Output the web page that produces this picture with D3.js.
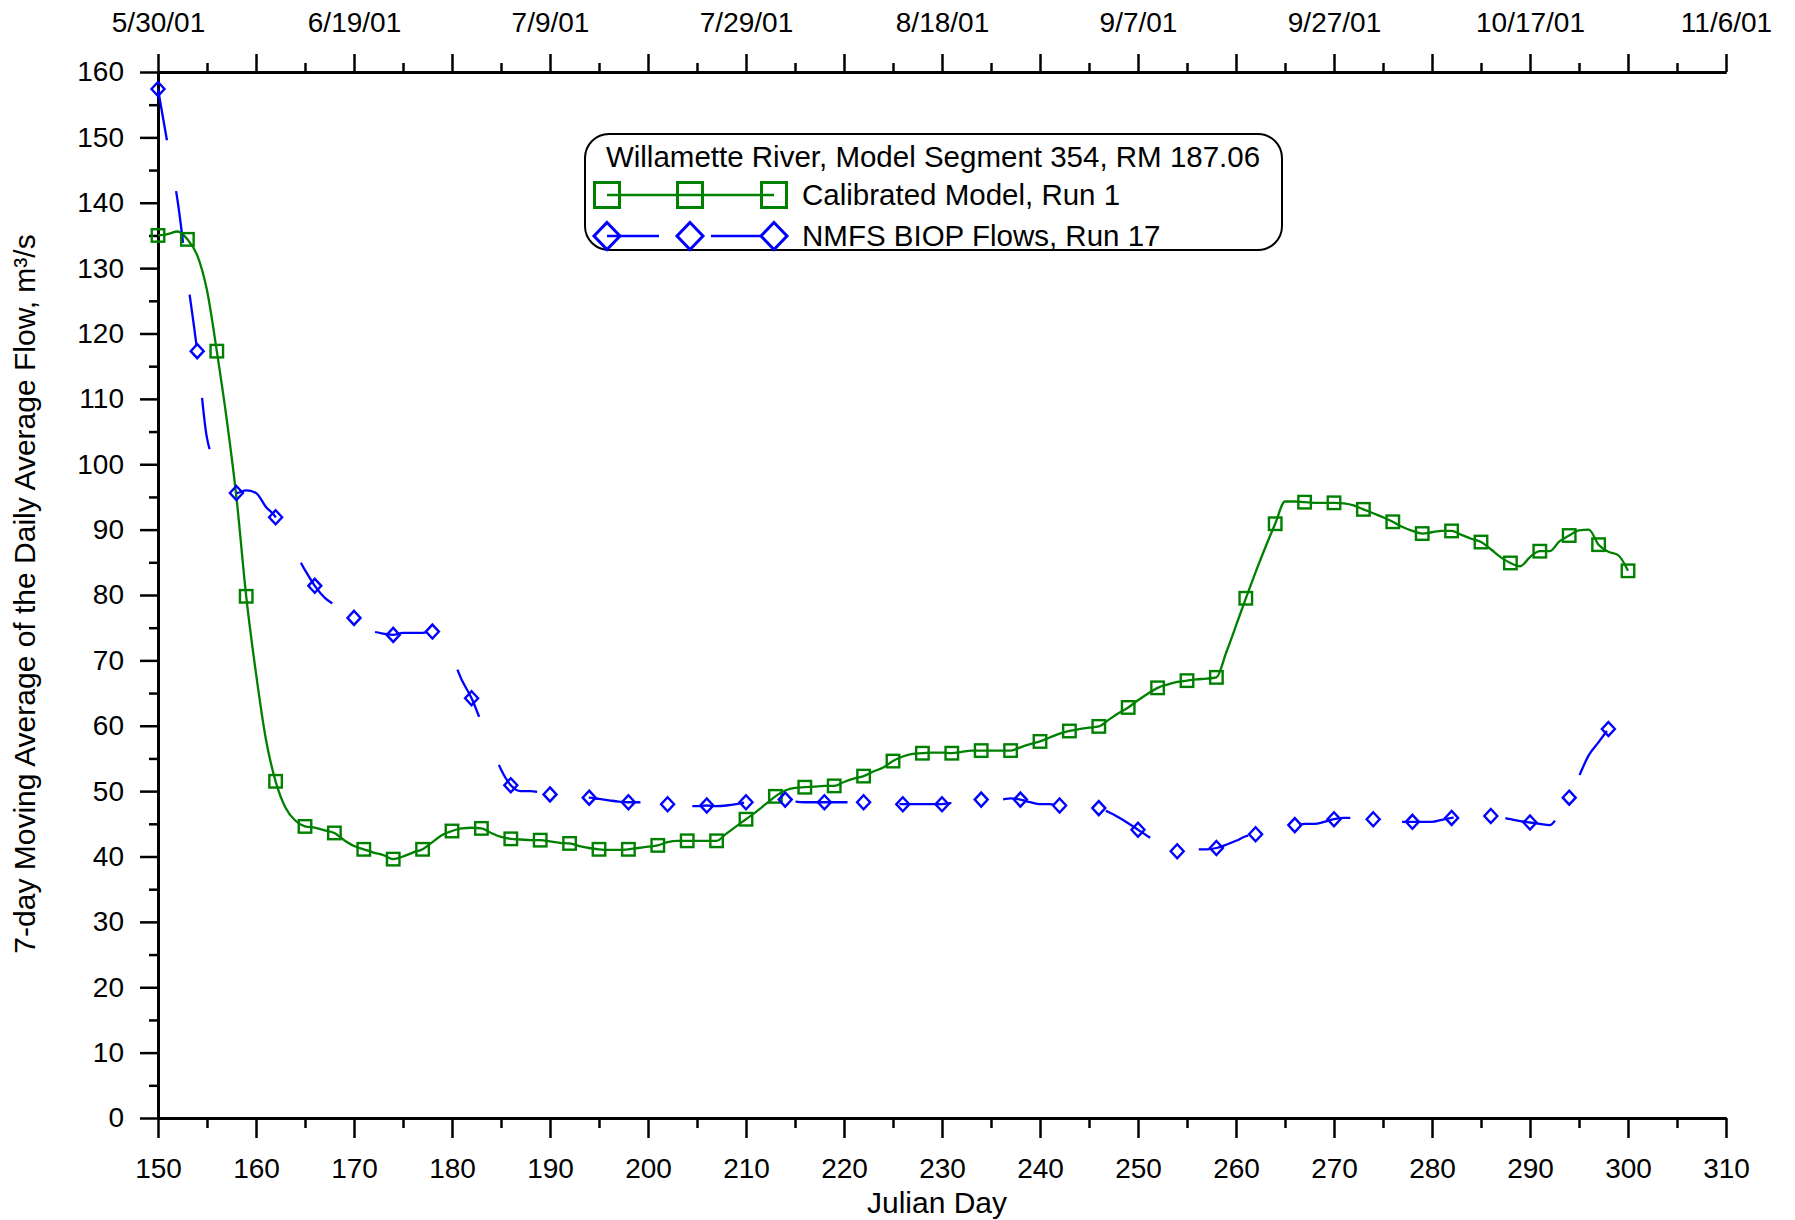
<!DOCTYPE html>
<html><head><meta charset="utf-8">
<script src="https://cdn.jsdelivr.net/npm/d3@7"></script>
<style>
body{margin:0;background:#fff}
svg{display:block}
text{font-family:Arial,"Liberation Sans",sans-serif;fill:#000}
</style>
</head><body>
<svg id="chart" width="1795" height="1220"></svg>
<script>
// ---- data ----
const calibratedStart = 150;
const calibratedFlow = [
135.0,135.2,135.6,134.4,132.0,126.6,117.3,107.0,95.0,79.8,
68.0,58.0,51.5,47.5,45.5,44.6,44.4,44.0,43.6,42.5,
41.6,41.1,40.6,40.2,39.6,40.0,40.6,41.1,42.2,43.3,
43.9,44.3,44.4,44.3,43.6,43.0,42.7,42.6,42.5,42.5,
42.3,42.1,42.0,41.6,41.3,41.1,41.0,41.0,41.1,41.3,
41.5,41.7,42.2,42.4,42.4,42.4,42.4,42.4,43.5,44.6,
45.7,46.8,48.0,49.2,50.1,50.5,50.6,50.7,50.8,50.8,
51.4,51.9,52.3,53.0,53.6,54.6,55.3,55.7,55.8,55.9,
55.9,55.8,56.0,56.2,56.2,56.2,56.2,56.2,56.7,57.2,
57.6,58.2,58.8,59.2,59.5,59.7,59.9,60.9,61.9,62.8,
63.9,64.9,65.8,66.3,66.7,66.9,67.1,67.2,67.4,71.2,
75.3,79.5,83.5,87.3,90.9,94.3,94.3,94.2,94.1,94.1,
94.1,94.0,93.7,93.1,92.5,91.9,91.2,90.4,89.8,89.4,
89.6,89.8,89.8,89.2,88.6,88.1,87.0,85.8,84.9,84.4,
85.8,86.7,86.7,88.2,89.1,89.9,90.0,87.7,86.6,86.1,
83.7
];
const calibratedMarkerStep = 3;

const nmfsStart = 150;
const nmfsFlow = [
157.4,148.8,140.3,128.5,117.3,104.0,100.0,97.8,95.6,96.0,
95.6,93.5,91.9,88.5,86.5,83.8,81.4,79.6,78.5,77.5,
76.5,75.0,74.4,74.1,73.9,74.2,74.2,74.2,74.4,72.6,
70.5,67.0,64.2,60.5,57.0,53.3,50.9,50.0,50.0,49.8,
49.5,49.4,49.3,49.1,49.0,48.8,48.6,48.4,48.3,48.3,
48.2,48.1,48.0,47.8,47.7,47.7,47.8,47.7,47.8,48.0,
48.3,48.6,48.7,48.7,48.7,48.4,48.3,48.3,48.3,48.3,
48.3,48.3,48.3,48.2,48.1,48.0,48.0,48.0,48.0,48.0,
48.0,48.2,48.4,48.6,48.7,48.7,48.7,48.9,48.7,48.3,
48.0,48.0,47.8,47.7,47.6,47.5,47.4,46.8,46.0,45.1,
44.1,43.1,42.2,41.4,40.8,41.0,41.1,41.1,41.3,41.8,
42.4,43.1,43.4,43.9,44.3,44.6,44.8,45.0,45.0,45.3,
45.7,45.9,45.9,45.8,45.7,45.5,45.4,45.3,45.3,45.3,
45.3,45.6,45.9,46.1,46.2,46.3,46.2,46.0,45.7,45.4,
45.2,45.0,44.8,46.5,49.0,52.3,55.5,57.5,59.5
];
const nmfsMarkerStep = 4;

const seriesNames = ["Calibrated Model, Run 1", "NMFS BIOP Flows, Run 17"];
const legendTitle = "Willamette River, Model Segment 354, RM 187.06";
const xTickValues = d3.range(150, 311, 10);
const xMinorTicks = d3.range(155, 310, 10);
const yTickValues = d3.range(0, 161, 10);
const yMinorTicks = d3.range(5, 160, 10);
const dateTickDays = [150,170,190,210,230,250,270,290,310];
const dateTickLabels = ["5/30/01","6/19/01","7/9/01","7/29/01","8/18/01","9/7/01","9/27/01","10/17/01","11/6/01"];
const xTitle = "Julian Day";
const yTitle = "7-day Moving Average of the Daily Average Flow, m³/s";

// ---- layout ----
const svg = d3.select("#chart");
const L = 158, R = 1726, T = 72, B = 1118;
const x = d3.scaleLinear().domain([150, 310]).range([L, R]);
const y = d3.scaleLinear().domain([0, 160]).range([B, T]);
const GREEN = "#008000", BLUE = "#0000ff";
const FS = 28, FS_TITLE = 30, FS_LEG = 29.5;

function styleAxis(g){
  g.selectAll("path.domain").attr("stroke","#000").attr("stroke-width",3);
  g.selectAll(".tick line").attr("stroke","#000").attr("stroke-width",2.5);
  g.selectAll("text").attr("font-size",FS).attr("font-family","Arial, 'Liberation Sans', sans-serif").attr("fill","#000");
}

// bottom axis
svg.append("g").attr("transform",`translate(0,${B})`)
  .call(d3.axisBottom(x).tickValues(xMinorTicks).tickSize(10).tickSizeOuter(0).tickFormat(""))
  .call(styleAxis);
svg.append("g").attr("transform",`translate(0,${B})`)
  .call(d3.axisBottom(x).tickValues(xTickValues).tickSize(20).tickSizeOuter(0).tickPadding(20).tickFormat(d3.format("d")))
  .call(styleAxis);
// top axis
svg.append("g").attr("transform",`translate(0,${T})`)
  .call(d3.axisTop(x).tickValues(xMinorTicks).tickSize(9).tickSizeOuter(0).tickFormat(""))
  .call(styleAxis);
svg.append("g").attr("transform",`translate(0,${T})`)
  .call(d3.axisTop(x).tickValues(xTickValues).tickSize(18).tickSizeOuter(0).tickPadding(22)
     .tickFormat(d => { const i = dateTickDays.indexOf(d); return i >= 0 ? dateTickLabels[i] : ""; }))
  .call(styleAxis);
// left axis
svg.append("g").attr("transform",`translate(${L},0)`)
  .call(d3.axisLeft(y).tickValues(yMinorTicks).tickSize(9).tickSizeOuter(0).tickFormat(""))
  .call(styleAxis);
svg.append("g").attr("transform",`translate(${L},0)`)
  .call(d3.axisLeft(y).tickValues(yTickValues).tickSize(18).tickSizeOuter(0).tickPadding(16).tickFormat(d3.format("d")))
  .call(styleAxis);

// axis titles
svg.append("text").attr("x",(L+R)/2 - 5).attr("y",1213).attr("text-anchor","middle")
  .attr("font-size",FS_TITLE).text(xTitle);
svg.append("text").attr("transform",`translate(35,${(T+B)/2 - 1}) rotate(-90)`).attr("text-anchor","middle")
  .attr("font-size",FS_TITLE).text(yTitle);

// ---- series ----
const calData = calibratedFlow.map((v,i)=>({day: calibratedStart + i, v}));
const nmfsData = nmfsFlow.map((v,i)=>({day: nmfsStart + i, v}));
const line = d3.line().x(d=>x(d.day)).y(d=>y(d.v)).curve(d3.curveMonotoneX);

const plot = svg.append("g");
plot.append("path").datum(calData).attr("d",line)
  .attr("fill","none").attr("stroke",GREEN).attr("stroke-width",2.3);
plot.append("path").datum(nmfsData).attr("d",line)
  .attr("fill","none").attr("stroke",BLUE).attr("stroke-width",2.3)
  .attr("stroke-dasharray","52 52");

const sq = 12.5;
plot.selectAll("rect.cal").data(calData.filter((d,i)=> i % calibratedMarkerStep === 0))
  .join("rect").attr("class","cal")
  .attr("x",d=>x(d.day)-sq/2).attr("y",d=>y(d.v)-sq/2).attr("width",sq).attr("height",sq)
  .attr("fill","none").attr("stroke",GREEN).attr("stroke-width",2.4);

function diamond(cx, cy, hw, hh){ return `M${cx},${cy-hh}L${cx+hw},${cy}L${cx},${cy+hh}L${cx-hw},${cy}Z`; }
plot.selectAll("path.nm").data(nmfsData.filter((d,i)=> i % nmfsMarkerStep === 0))
  .join("path").attr("class","nm")
  .attr("d",d=>diamond(x(d.day), y(d.v), 6.5, 7))
  .attr("fill","none").attr("stroke",BLUE).attr("stroke-width",2.4);

// ---- legend ----
const lg = svg.append("g");
lg.append("rect").attr("x",585).attr("y",134).attr("width",697).attr("height",116)
  .attr("rx",24).attr("ry",24).attr("fill","#fff").attr("stroke","#000").attr("stroke-width",2);
lg.append("text").attr("x",933).attr("y",167).attr("text-anchor","middle").attr("font-size",FS_LEG).text(legendTitle);
const symX = [607, 690, 774];
const rowY = [195, 236];
lg.append("line").attr("x1",symX[0]).attr("x2",symX[2]).attr("y1",rowY[0]).attr("y2",rowY[0])
  .attr("stroke",GREEN).attr("stroke-width",2.5);
symX.forEach(cx => lg.append("rect").attr("x",cx-12.5).attr("y",rowY[0]-12.5).attr("width",25).attr("height",25)
  .attr("fill","none").attr("stroke",GREEN).attr("stroke-width",3));
lg.append("line").attr("x1",symX[0]).attr("x2",symX[2]).attr("y1",rowY[1]).attr("y2",rowY[1])
  .attr("stroke",BLUE).attr("stroke-width",2.5).attr("stroke-dasharray","52 52");
symX.forEach(cx => lg.append("path").attr("d",diamond(cx,rowY[1],13,13.5))
  .attr("fill","none").attr("stroke",BLUE).attr("stroke-width",3));
seriesNames.forEach((n,i)=> lg.append("text").attr("x",802).attr("y",rowY[i]+10).attr("font-size",FS_LEG).text(n));
</script>
</body></html>
